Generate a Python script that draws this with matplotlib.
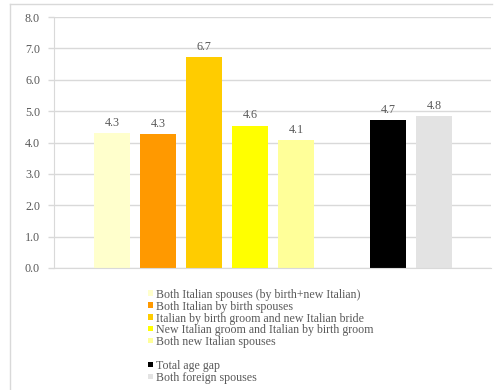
import matplotlib.pyplot as plt
from matplotlib.patches import Rectangle
from matplotlib.lines import Line2D

# Average age gap between spouses, by citizenship of the couple
labels = ['Both Italian spouses (by birth+new Italian)',
          'Both Italian by birth spouses',
          'Italian by birth groom and new Italian bride',
          'New Italian groom and Italian by birth groom',
          'Both new Italian spouses',
          'Total age gap',
          'Both foreign spouses']
values = [4.31, 4.26, 6.72, 4.54, 4.07, 4.71, 4.84]
shown = ['4.3', '4.3', '6.7', '4.6', '4.1', '4.7', '4.8']
colors = ['#FFFFCC', '#FF9900', '#FFCC00', '#FFFF00', '#FFFF99', '#000000', '#E3E3E3']
slots = [0, 1, 2, 3, 4, 6, 7]   # one empty slot between the two groups

plt.rcParams['font.family'] = ['Liberation Serif', 'DejaVu Serif']

W, H = 497, 390
fig = plt.figure(figsize=(W / 100, H / 100), dpi=100)
ax = fig.add_axes([54 / W, 1 - 268 / H, (491 - 54) / W, (268 - 17) / H])

ax.bar(slots, values, width=0.78, color=colors, zorder=2)
for x, v, s in zip(slots, values, shown):
    ax.annotate(s, (x, v), xytext=(0, 3), textcoords='offset points',
                ha='center', va='bottom', fontsize=8.7, color='#595959')

ax.set_xlim(-1.26, 8.24)
ax.set_ylim(0, 8)
ax.set_yticks([i for i in range(9)])
ax.set_yticklabels([f'{i:.1f}' for i in range(9)])
ax.set_xticks([])
ax.tick_params(axis='y', labelsize=8.7, labelcolor='#595959', color='#D9D9D9',
               length=4, width=1, pad=6)
ax.grid(axis='y', color='#D9D9D9', linewidth=1, zorder=0)
ax.set_axisbelow(True)
for side in ['top', 'right']:
    ax.spines[side].set_visible(False)
ax.spines['left'].set_color('#D9D9D9')
ax.spines['bottom'].set_color('#D9D9D9')

# legend below, drawn by hand so the row pitch matches (blank row between groups)
row_pitch = 11.9
for lab, col, slot in zip(labels, colors, slots):
    yc = 293 + row_pitch * slot
    fig.add_artist(Rectangle((148 / W, 1 - (yc + 2.7) / H), 5.4 / W, 5.4 / H,
                             transform=fig.transFigure, facecolor=col, edgecolor='none'))
    fig.text(156 / W, 1 - (yc + 0.3) / H, lab, fontsize=8.6, color='#595959',
             ha='left', va='center_baseline')

# outer frame of the chart box
fig.add_artist(Line2D([10 / W, 10 / W], [1 - 4 / H, 0], color='#D9D9D9', lw=1))
fig.add_artist(Line2D([10 / W, 492 / W], [1 - 4 / H, 1 - 4 / H], color='#D9D9D9', lw=1))

fig.savefig('out.png', dpi=100)
